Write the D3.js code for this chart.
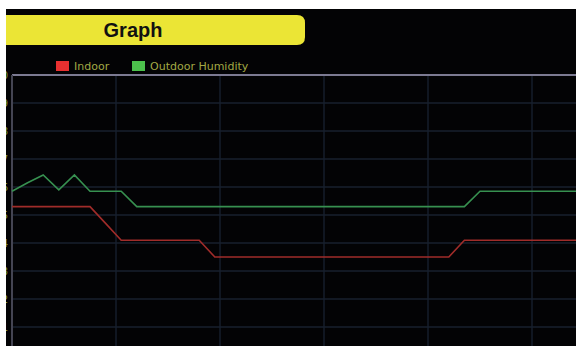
<!DOCTYPE html>
<html>
<head>
<meta charset="utf-8">
<script src="https://cdn.jsdelivr.net/npm/d3@7/dist/d3.min.js"></script>
<style>
  html, body { margin: 0; padding: 0; background: #ffffff; }
  svg { display: block; }
</style>
</head>
<body>
<svg id="chart" width="576" height="346"></svg>
<script>
// Readings sampled every 9 minutes
const sampleMinutes = 9;
const indoor = [5.3, 5.3, 5.3, 5.3, 5.3, 5.3, 4.7, 4.1, 4.1, 4.1, 4.1, 4.1, 4.1, 3.5,
  3.5, 3.5, 3.5, 3.5, 3.5, 3.5, 3.5, 3.5, 3.5, 3.5, 3.5, 3.5, 3.5, 3.5, 3.5,
  4.1, 4.1, 4.1, 4.1, 4.1, 4.1, 4.1, 4.1, 4.1];
const outdoorHumidity = [5.85, 6.15, 6.43, 5.9, 6.43, 5.85, 5.85, 5.85, 5.3, 5.3,
  5.3, 5.3, 5.3, 5.3, 5.3, 5.3, 5.3, 5.3, 5.3, 5.3, 5.3, 5.3, 5.3, 5.3, 5.3, 5.3,
  5.3, 5.3, 5.3, 5.3, 5.85, 5.85, 5.85, 5.85, 5.85, 5.85, 5.85, 5.85];
const yTicks = [1, 2, 3, 4, 5, 6, 7, 8, 9, 10];
const xGridMinutes = [60, 120, 180, 240, 300];
const seriesNames = ["Indoor", "Outdoor Humidity"];
const seriesColors = ["#e83030", "#4cc04c"];
const lineColors = ["#a02c2a", "#379050"];
const titleText = "Graph";

const svg = d3.select("#chart");
const W = 576, H = 346;

// Screen background
svg.append("rect").attr("x", 6).attr("y", 9).attr("width", W - 6).attr("height", H - 9).attr("fill", "#030305");

const x = d3.scaleLinear().domain([0, 60]).range([12, 116]);
const y = d3.scaleLinear().domain([0, 10]).range([355, 75]);

const plot = svg.append("g");

// Horizontal grid
plot.selectAll("line.hg").data(yTicks.filter(v => v < 10)).join("line")
  .attr("class", "hg")
  .attr("x1", 12).attr("x2", W)
  .attr("y1", d => y(d)).attr("y2", d => y(d))
  .attr("stroke", "#18202e").attr("stroke-width", 1.4);

// Vertical grid
plot.selectAll("line.vg").data(xGridMinutes).join("line")
  .attr("class", "vg")
  .attr("x1", d => x(d)).attr("x2", d => x(d))
  .attr("y1", 75).attr("y2", H)
  .attr("stroke", "#18202e").attr("stroke-width", 1.4);

// Frame: top border and left axis
plot.append("line").attr("x1", 12).attr("x2", W).attr("y1", y(10)).attr("y2", y(10))
  .attr("stroke", "#7c7a92").attr("stroke-width", 2);
plot.append("line").attr("x1", 12).attr("x2", 12).attr("y1", y(10)).attr("y2", H)
  .attr("stroke", "#444452").attr("stroke-width", 2);

// Y axis labels
const yAxis = d3.axisLeft(y).tickValues(yTicks).tickSize(0).tickPadding(2).tickFormat(d3.format("d"));
const yg = svg.append("g").attr("transform", "translate(10,0)").call(yAxis);
yg.select(".domain").remove();
yg.selectAll("text").attr("fill", "#8a962c").attr("font-family", "DejaVu Sans, sans-serif").attr("font-size", 10);

// Series lines
const line = d3.line().x((d, i) => x(i * sampleMinutes)).y(d => y(d));
[indoor, outdoorHumidity].forEach((s, k) => {
  plot.append("path").datum(s)
    .attr("d", line)
    .attr("fill", "none")
    .attr("stroke", lineColors[k])
    .attr("stroke-width", 1.6)
    .attr("stroke-linejoin", "miter");
});

// White page margin at top and left
svg.append("rect").attr("x", 0).attr("y", 0).attr("width", W).attr("height", 9).attr("fill", "#ffffff");
svg.append("rect").attr("x", 0).attr("y", 0).attr("width", 6).attr("height", H).attr("fill", "#ffffff");

// Title banner with rounded right end
const bx0 = 6, bx1 = 305, by0 = 15, by1 = 45, r = 8;
svg.append("path")
  .attr("d", `M${bx0},${by0} H${bx1 - r} Q${bx1},${by0} ${bx1},${by0 + r} V${by1 - r} Q${bx1},${by1} ${bx1 - r},${by1} H${bx0} Z`)
  .attr("fill", "#ebe535");
svg.append("text").attr("x", 133).attr("y", 37)
  .attr("text-anchor", "middle")
  .attr("font-family", "Liberation Sans, Arial, sans-serif")
  .attr("font-weight", "bold").attr("font-size", 20)
  .attr("fill", "#111111").text(titleText);

// Legend
const legendX = [56, 132];
const lg = svg.append("g");
seriesNames.forEach((name, k) => {
  lg.append("rect").attr("x", legendX[k]).attr("y", 61).attr("width", 13).attr("height", 10).attr("fill", seriesColors[k]);
  lg.append("text").attr("x", legendX[k] + 18).attr("y", 70)
    .attr("font-family", "DejaVu Sans, sans-serif").attr("font-size", 11)
    .attr("fill", "#a2a844").text(name);
});
</script>
</body>
</html>
